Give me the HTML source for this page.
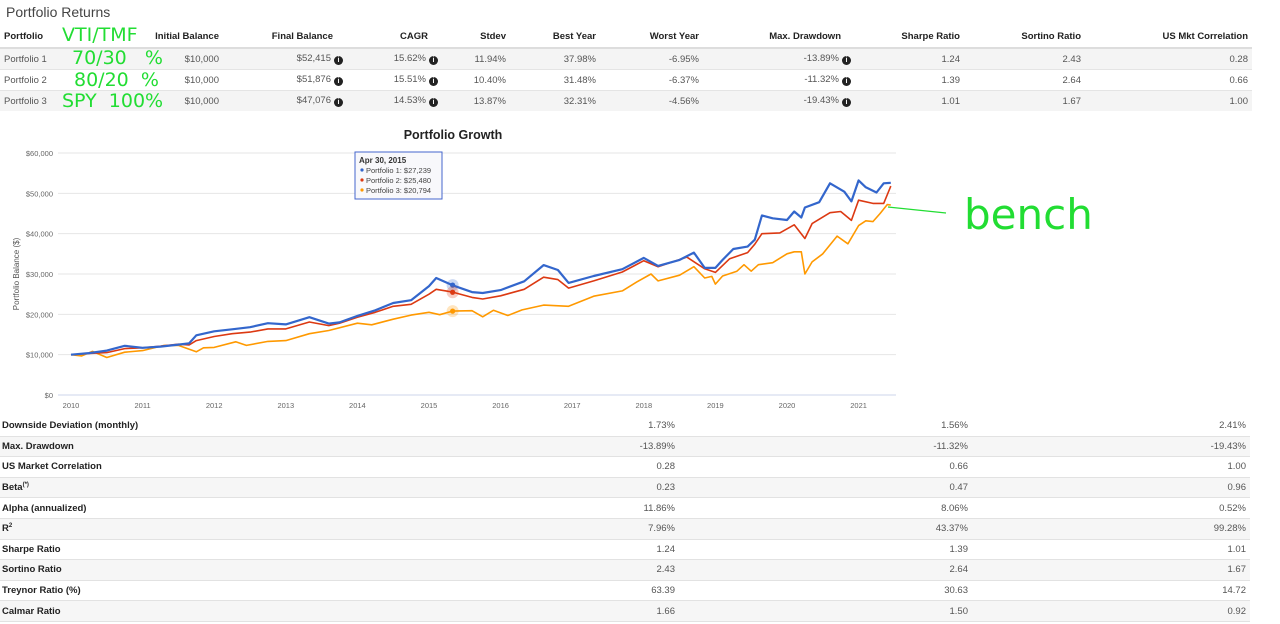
<!DOCTYPE html>
<html><head><meta charset="utf-8">
<style>
body{margin:0;width:1280px;height:624px;background:#fff;font-family:"Liberation Sans",Arial,sans-serif;color:#333;position:relative;overflow:hidden}
.title{position:absolute;left:6px;top:4px;font-size:14px;color:#444}
table{border-collapse:collapse;position:absolute;font-size:9.5px}
td,th{padding:0 4px;white-space:nowrap}
#top{left:0;top:26px;width:1252px;table-layout:fixed}
#top th{height:21px;text-align:right;font-weight:bold;color:#222;border-bottom:2px solid #ddd}
#top th:first-child,#top td:first-child{text-align:left}
#top td{height:20px;text-align:right;color:#555;border-top:1px solid #e4e4e4}
#top tr.g td{background:#f4f4f4}
.i{display:inline-block;width:9px;height:9px;border-radius:50%;background:#222;color:#fff;font-size:7px;line-height:9px;text-align:center;font-weight:bold;margin-left:3px;vertical-align:-1px}
.ni{padding-right:14px}
#bot{left:0;top:416px;width:1250px}
#bot td{height:19.6px;text-align:right;color:#555;border-bottom:1px solid #e2e2e2}
#bot td:first-child{text-align:left;font-weight:bold;color:#222;padding-left:2px}
#bot tr.g td{background:#f6f6f6}
.hw{position:absolute;color:#22dd33;font-family:"DejaVu Sans",sans-serif;font-weight:normal;letter-spacing:0px;line-height:1}
svg{position:absolute;left:0;top:0}
</style></head><body>
<div class="title">Portfolio Returns</div>
<table id="top">
<colgroup><col style="width:150px"><col style="width:73px"><col style="width:124px"><col style="width:95px"><col style="width:68px"><col style="width:90px"><col style="width:103px"><col style="width:152px"><col style="width:109px"><col style="width:121px"><col style="width:167px"></colgroup>
<tr><th>Portfolio</th><th>Initial Balance</th><th class="ni">Final Balance</th><th class="ni">CAGR</th><th>Stdev</th><th>Best Year</th><th>Worst Year</th><th class="ni">Max. Drawdown</th><th>Sharpe Ratio</th><th>Sortino Ratio</th><th>US Mkt Correlation</th></tr>
<tr class="g"><td>Portfolio 1</td><td>$10,000</td><td>$52,415<span class="i">i</span></td><td>15.62%<span class="i">i</span></td><td>11.94%</td><td>37.98%</td><td>-6.95%</td><td>-13.89%<span class="i">i</span></td><td>1.24</td><td>2.43</td><td>0.28</td></tr>
<tr><td>Portfolio 2</td><td>$10,000</td><td>$51,876<span class="i">i</span></td><td>15.51%<span class="i">i</span></td><td>10.40%</td><td>31.48%</td><td>-6.37%</td><td>-11.32%<span class="i">i</span></td><td>1.39</td><td>2.64</td><td>0.66</td></tr>
<tr class="g"><td>Portfolio 3</td><td>$10,000</td><td>$47,076<span class="i">i</span></td><td>14.53%<span class="i">i</span></td><td>13.87%</td><td>32.31%</td><td>-4.56%</td><td>-19.43%<span class="i">i</span></td><td>1.01</td><td>1.67</td><td>1.00</td></tr>
</table>
<div class="hw" style="left:62px;top:26px;font-size:19px">VTI/TMF</div>
<div class="hw" style="left:72px;top:49px;font-size:19px">70/30 &nbsp;&nbsp;%</div>
<div class="hw" style="left:74px;top:71px;font-size:19px">80/20 &nbsp;%</div>
<div class="hw" style="left:62px;top:92px;font-size:19px">SPY &nbsp;100%</div>
<div class="hw" style="left:964px;top:194px;font-size:42px">bench</div>

<svg id="chart" width="1280" height="624">
<text x="453" y="139" text-anchor="middle" font-size="12.5" font-weight="bold" fill="#222">Portfolio Growth</text>
<text transform="translate(19,274) rotate(-90)" text-anchor="middle" font-size="8" fill="#555">Portfolio Balance ($)</text>
<g id="grid"></g><g id="lines"></g><g id="marks"></g>
<line x1="888" y1="207" x2="946" y2="213" stroke="#22dd33" stroke-width="1.3"/>
<g>
<rect x="355" y="152" width="87" height="47" fill="#f8f8fb" stroke="#4466cc" stroke-width="1"/>
<text x="359" y="163" font-size="8" font-weight="bold" fill="#333">Apr 30, 2015</text>
<circle cx="362" cy="170" r="1.6" fill="#3366cc"/><text x="366" y="173" font-size="7.5" fill="#444">Portfolio 1: $27,239</text>
<circle cx="362" cy="180" r="1.6" fill="#dc3912"/><text x="366" y="183" font-size="7.5" fill="#444">Portfolio 2: $25,480</text>
<circle cx="362" cy="190" r="1.6" fill="#ff9900"/><text x="366" y="193" font-size="7.5" fill="#444">Portfolio 3: $20,794</text>
</g>
</svg>

<table id="bot">
<tr><td>Downside Deviation (monthly)</td><td style="width:490px">1.73%</td><td style="width:285px">1.56%</td><td style="width:270px">2.41%</td></tr>
<tr class="g"><td>Max. Drawdown</td><td>-13.89%</td><td>-11.32%</td><td>-19.43%</td></tr>
<tr><td>US Market Correlation</td><td>0.28</td><td>0.66</td><td>1.00</td></tr>
<tr class="g"><td>Beta<sup style="font-size:6px">(*)</sup></td><td>0.23</td><td>0.47</td><td>0.96</td></tr>
<tr><td>Alpha (annualized)</td><td>11.86%</td><td>8.06%</td><td>0.52%</td></tr>
<tr class="g"><td>R<sup style="font-size:6px">2</sup></td><td>7.96%</td><td>43.37%</td><td>99.28%</td></tr>
<tr><td>Sharpe Ratio</td><td>1.24</td><td>1.39</td><td>1.01</td></tr>
<tr class="g"><td>Sortino Ratio</td><td>2.43</td><td>2.64</td><td>1.67</td></tr>
<tr><td>Treynor Ratio (%)</td><td>63.39</td><td>30.63</td><td>14.72</td></tr>
<tr class="g"><td>Calmar Ratio</td><td>1.66</td><td>1.50</td><td>0.92</td></tr>
</table>

<script>
const yTicks=[0,10000,20000,30000,40000,50000,60000];
const yTickLabels=["$0","$10,000","$20,000","$30,000","$40,000","$50,000","$60,000"];
const xTicks=[2010,2011,2012,2013,2014,2015,2016,2017,2018,2019,2020,2021];
const p1Dates=[2010,2010.25,2010.5,2010.75,2011,2011.25,2011.5,2011.65,2011.75,2012,2012.25,2012.5,2012.75,2013,2013.33,2013.6,2013.75,2014,2014.25,2014.5,2014.75,2015,2015.1,2015.33,2015.6,2015.75,2016,2016.33,2016.6,2016.8,2016.95,2017.3,2017.7,2018,2018.2,2018.5,2018.7,2018.85,2019,2019.1,2019.25,2019.45,2019.55,2019.65,2019.8,2020,2020.1,2020.2,2020.25,2020.45,2020.6,2020.8,2020.9,2021,2021.1,2021.25,2021.35,2021.45];
const p1Values=[10,10.4,11,12.2,11.7,12,12.5,12.8,14.8,15.8,16.3,16.8,17.8,17.5,19.3,17.7,18,19.6,21,22.8,23.5,27,29,27.2,25.5,25.3,26,28.2,32.2,31,27.8,29.5,31.2,34,32,33.5,35.3,31.5,31.5,33.5,36.2,36.8,38.5,44.5,43.8,43.4,45.5,44,46.5,47.8,52.5,50.4,48,53.2,51.5,50.2,52.5,52.6];
const p2Dates=[2010,2010.25,2010.5,2010.75,2011,2011.25,2011.5,2011.65,2011.75,2012,2012.25,2012.5,2012.75,2013,2013.33,2013.6,2013.75,2014,2014.25,2014.5,2014.75,2015,2015.1,2015.33,2015.6,2015.75,2016,2016.33,2016.6,2016.8,2016.95,2017.3,2017.7,2018,2018.2,2018.6,2018.85,2019,2019.2,2019.45,2019.55,2019.65,2019.9,2020.1,2020.25,2020.35,2020.6,2020.75,2020.9,2021,2021.2,2021.35,2021.45];
const p2Values=[10,10.3,10.5,11.5,11.7,12.1,12.6,12.4,13.5,14.5,15.2,15.6,16.4,16.4,18.1,17.2,17.8,19.3,20.5,22,22.5,25,26.2,25.5,24.2,23.8,24.6,26.2,29.2,28.6,26.5,28.3,30.5,33.3,31.8,34.2,31.3,30.4,33.8,35.3,37.4,40,40.2,42.2,38.8,42.5,45.2,45.5,43.3,48.3,47.5,47.5,51.8];
const p3Dates=[2010,2010.15,2010.3,2010.5,2010.75,2011,2011.3,2011.5,2011.75,2011.85,2012,2012.3,2012.45,2012.75,2013,2013.33,2013.6,2014,2014.2,2014.5,2014.75,2015,2015.15,2015.33,2015.6,2015.75,2015.9,2016.1,2016.3,2016.6,2016.95,2017.3,2017.7,2017.9,2018.1,2018.2,2018.5,2018.7,2018.85,2018.95,2019,2019.1,2019.3,2019.4,2019.5,2019.6,2019.8,2020,2020.1,2020.2,2020.25,2020.35,2020.5,2020.7,2020.85,2021,2021.1,2021.2,2021.3,2021.4,2021.45];
const p3Values=[10,9.7,10.8,9.3,10.6,11,12.3,12.3,10.7,11.7,11.8,13.2,12.3,13.3,13.5,15.2,16,17.8,17.4,18.8,19.8,20.5,19.9,20.8,20.9,19.4,21,19.7,21.1,22.3,22,24.5,25.8,28,30,28.3,29.7,31.8,29,29.4,27.5,29.5,30.7,32.3,30.7,32.3,32.8,35,35.5,35.5,30,33,35,39.4,37.5,42,43.2,43,45,47.2,47.1];
const hoverDate=2015.33;
const hoverValues=[27.239,25.48,20.794];
const colors=["#3366cc","#dc3912","#ff9900"];

const NS="http://www.w3.org/2000/svg";
const xS=d=>71+(d-2010)*71.6;
const yS=v=>395-v*(242/60000);
function mk(t,a,p){const e=document.createElementNS(NS,t);for(const k in a)e.setAttribute(k,a[k]);p.appendChild(e);return e;}
const grid=document.getElementById('grid');
yTicks.forEach((v,i)=>{
  const l=mk('line',{x1:58,x2:896,y1:yS(v),y2:yS(v),stroke:i==0?'#ccd6eb':'#e6e6e6','stroke-width':1},grid);
  
  
  const t=mk('text',{x:53,y:yS(v)+3,'text-anchor':'end','font-size':7.5,fill:'#666'},grid);
  t.textContent=yTickLabels[i];
  
  
});
xTicks.forEach(y=>{
  const t=mk('text',{x:xS(y),y:408,'text-anchor':'middle','font-size':7.5,fill:'#666'},grid);
  t.textContent=y;
  
  
});
const lines=document.getElementById('lines');
[[p3Dates,p3Values,2],[p2Dates,p2Values,1],[p1Dates,p1Values,0]].forEach(([ds,vs,ci])=>{
  const pts=ds.map((d,i)=>xS(d).toFixed(1)+','+yS(vs[i]*1000).toFixed(1)).join(' ');
  const pl=mk('polyline',{points:pts,fill:'none',stroke:colors[ci],'stroke-width':ci==0?2.2:1.6,'stroke-linejoin':'round'},lines);
  
  
});
const marks=document.getElementById('marks');
hoverValues.forEach((v,i)=>{
  mk('circle',{cx:xS(hoverDate),cy:yS(v*1000),r:6,fill:colors[i],opacity:0.25},marks);
  const c=mk('circle',{cx:xS(hoverDate),cy:yS(v*1000),r:2.6,fill:colors[i]},marks);
  
  
});
</script>
</body></html>
